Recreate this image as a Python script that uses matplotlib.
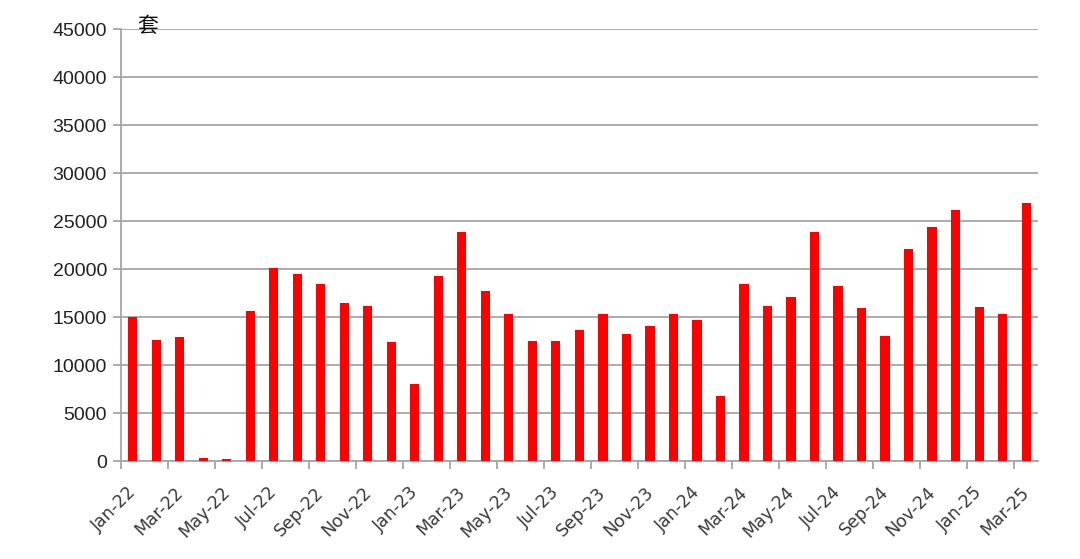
import numpy as np
import matplotlib
matplotlib.use("Agg")
import matplotlib.pyplot as plt
from matplotlib.transforms import ScaledTranslation

# 月度数据（套）
months = ["Jan-22", "Feb-22", "Mar-22", "Apr-22", "May-22", "Jun-22",
          "Jul-22", "Aug-22", "Sep-22", "Oct-22", "Nov-22", "Dec-22",
          "Jan-23", "Feb-23", "Mar-23", "Apr-23", "May-23", "Jun-23",
          "Jul-23", "Aug-23", "Sep-23", "Oct-23", "Nov-23", "Dec-23",
          "Jan-24", "Feb-24", "Mar-24", "Apr-24", "May-24", "Jun-24",
          "Jul-24", "Aug-24", "Sep-24", "Oct-24", "Nov-24", "Dec-24",
          "Jan-25", "Feb-25", "Mar-25"]
values = [15000, 12650, 12900, 310, 210, 15650,
          20100, 19500, 18450, 16500, 16150, 12400,
          8000, 19300, 23850, 17700, 15300, 12550,
          12550, 13700, 15300, 13250, 14050, 15300,
          14750, 6750, 18500, 16200, 17100, 23900,
          18250, 15950, 13000, 22050, 24350, 26200,
          16050, 15330, 26850]
yticks = list(range(0, 45001, 5000))

grid_c = "#a6a6a6"

fig = plt.figure(figsize=(10.8, 5.59), dpi=100)
ax = fig.add_axes([0.112, 0.175, 0.849, 0.773])

x = np.arange(len(months))
ax.bar(x, values, width=0.39, color="#ff0000", zorder=3)

ax.set_xlim(-0.5, len(months) - 0.5)
ax.set_ylim(0, 45000)
ax.set_yticks(yticks)
ax.set_yticklabels([str(v) for v in yticks], fontsize=14,
                   family="Liberation Sans", color="#222222")
ax.yaxis.grid(True, color=grid_c, linewidth=1.3, zorder=0)

# 刻度线在类别边界，标签在类别中心
ax.set_xticks(x[::2] - 0.5)
ax.set_xticklabels([])
ax.set_xticks(x[::2], minor=True)
ax.set_xticklabels(months[::2], minor=True, rotation=45, ha="right",
                   rotation_mode="anchor", fontsize=12.5, color="#3a3a3a")
ax.tick_params(axis="x", which="minor", length=0, pad=16)
ax.tick_params(axis="x", which="major", length=6, width=1.3, color=grid_c)
ax.tick_params(axis="y", length=6, width=1.3, color=grid_c, pad=4)

off = ScaledTranslation(-6 / 100, 0, fig.dpi_scale_trans)
for lab in ax.get_xticklabels(minor=True):
    lab.set_transform(lab.get_transform() + off)

for s in ["top", "right"]:
    ax.spines[s].set_visible(False)
for s in ["left", "bottom"]:
    ax.spines[s].set_color(grid_c)
    ax.spines[s].set_linewidth(1.3)

fig.text(0.137, 0.953, "套", family=["Noto Sans CJK SC", "DejaVu Sans"],
         fontsize=15, ha="center", va="center", color="#111111")

fig.savefig("out.png", dpi=100)
